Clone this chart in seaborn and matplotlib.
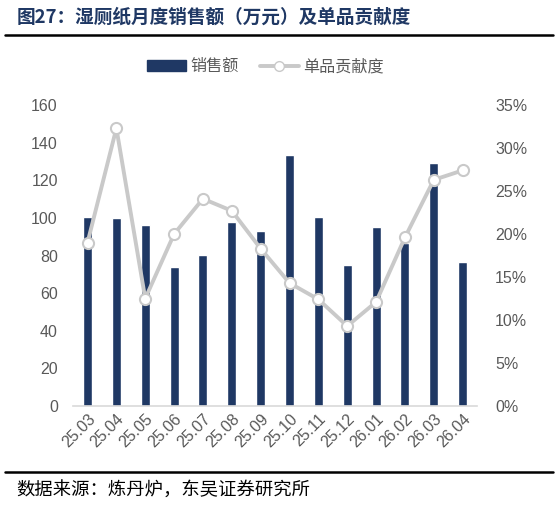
import numpy as np
import pandas as pd
import matplotlib
matplotlib.use('Agg')
import matplotlib.pyplot as plt
import seaborn as sns
from matplotlib.lines import Line2D
from matplotlib.patches import Patch
from matplotlib.ticker import PercentFormatter

# data
months = ['25.03', '25.04', '25.05', '25.06', '25.07', '25.08', '25.09',
          '25.10', '25.11', '25.12', '26.01', '26.02', '26.03', '26.04']
sales = [100.6, 99.9, 96.0, 73.7, 80.5, 97.8, 92.9,
         133.4, 100.6, 75.0, 95.2, 86.5, 129.0, 76.6]
contrib_pct = [19.0, 32.3, 12.5, 20.0, 24.1, 22.7, 18.3,
               14.3, 12.4, 9.3, 12.1, 19.6, 26.3, 27.4]

title = '图27：湿厕纸月度销售额（万元）及单品贡献度'
source = '数据来源：炼丹炉，东吴证券研究所'
bar_label = '销售额'
line_label = '单品贡献度'

navy = '#1F3864'
gray_line = '#C9C9C9'
tick_gray = '#595959'

sns.set_theme(style='white')
plt.rcParams['font.family'] = ['Liberation Sans', 'Noto Sans CJK SC']

df = pd.DataFrame({'month': months, 'sales': sales, 'pct': contrib_pct})
df['pos'] = np.arange(len(df))

fig = plt.figure(figsize=(5.58, 5.05), dpi=100)
ax = fig.add_axes([0.131, 0.196, 0.724, 0.596])

sns.barplot(data=df, x='month', y='sales', color=navy, width=0.31,
            saturation=1, ax=ax)
ax.set_xlim(-0.5, len(months) - 0.5)
ax.set_ylim(0, 160)
ax.set_yticks(np.arange(0, 161, 20))
ax.set_xlabel('')
ax.set_ylabel('')

ax2 = ax.twinx()
sns.lineplot(data=df, x='pos', y='pct', color=gray_line, lw=2.8,
             marker='o', markersize=8, markerfacecolor='white',
             markeredgecolor=gray_line, markeredgewidth=1.5, ax=ax2)
ax2.set_ylim(0, 35)
ax2.set_yticks(np.arange(0, 36, 5))
ax2.yaxis.set_major_formatter(PercentFormatter(100, decimals=0))
ax2.set_xlabel('')
ax2.set_ylabel('')

for a in (ax, ax2):
    for s in a.spines.values():
        s.set_visible(False)
    a.tick_params(length=0, colors=tick_gray, labelsize=11.5)
    a.grid(False)
ax.spines['bottom'].set_visible(True)
ax.spines['bottom'].set_color('#D9D9D9')
ax.spines['bottom'].set_linewidth(1.2)
ax.tick_params(axis='y', pad=11)
ax2.tick_params(axis='y', pad=13)
ax.tick_params(axis='x', pad=4)
for lab in ax.get_xticklabels():
    lab.set_rotation(45)
    lab.set_ha('right')
    lab.set_rotation_mode('anchor')

# legend
handles = [Patch(color=navy),
           Line2D([], [], color=gray_line, lw=2.8, marker='o', markersize=7,
                  markerfacecolor='white', markeredgecolor=gray_line)]
fig.legend(handles, [bar_label, line_label], loc='center',
           bbox_to_anchor=(0.476, 0.868), ncol=2, frameon=False,
           handlelength=2.4, columnspacing=1.3,
           handletextpad=0.3, labelcolor=tick_gray,
           prop={'family': ['Noto Sans CJK SC'], 'size': 11.6})

# title, rules and source
fig.text(0.03, 0.966, title, ha='left', va='center', fontsize=13.4,
         fontweight='bold', color=navy, family=['Noto Sans CJK SC'])
fig.add_artist(Line2D([0.009, 0.991], [0.931, 0.931], color='black', lw=1.8))
fig.add_artist(Line2D([0.009, 0.991], [0.066, 0.066], color='black', lw=1.8))
fig.text(0.03, 0.028, source, ha='left', va='center', fontsize=13.2,
         color='black', family=['Noto Sans CJK SC'])

fig.savefig('out.png', dpi=100)
